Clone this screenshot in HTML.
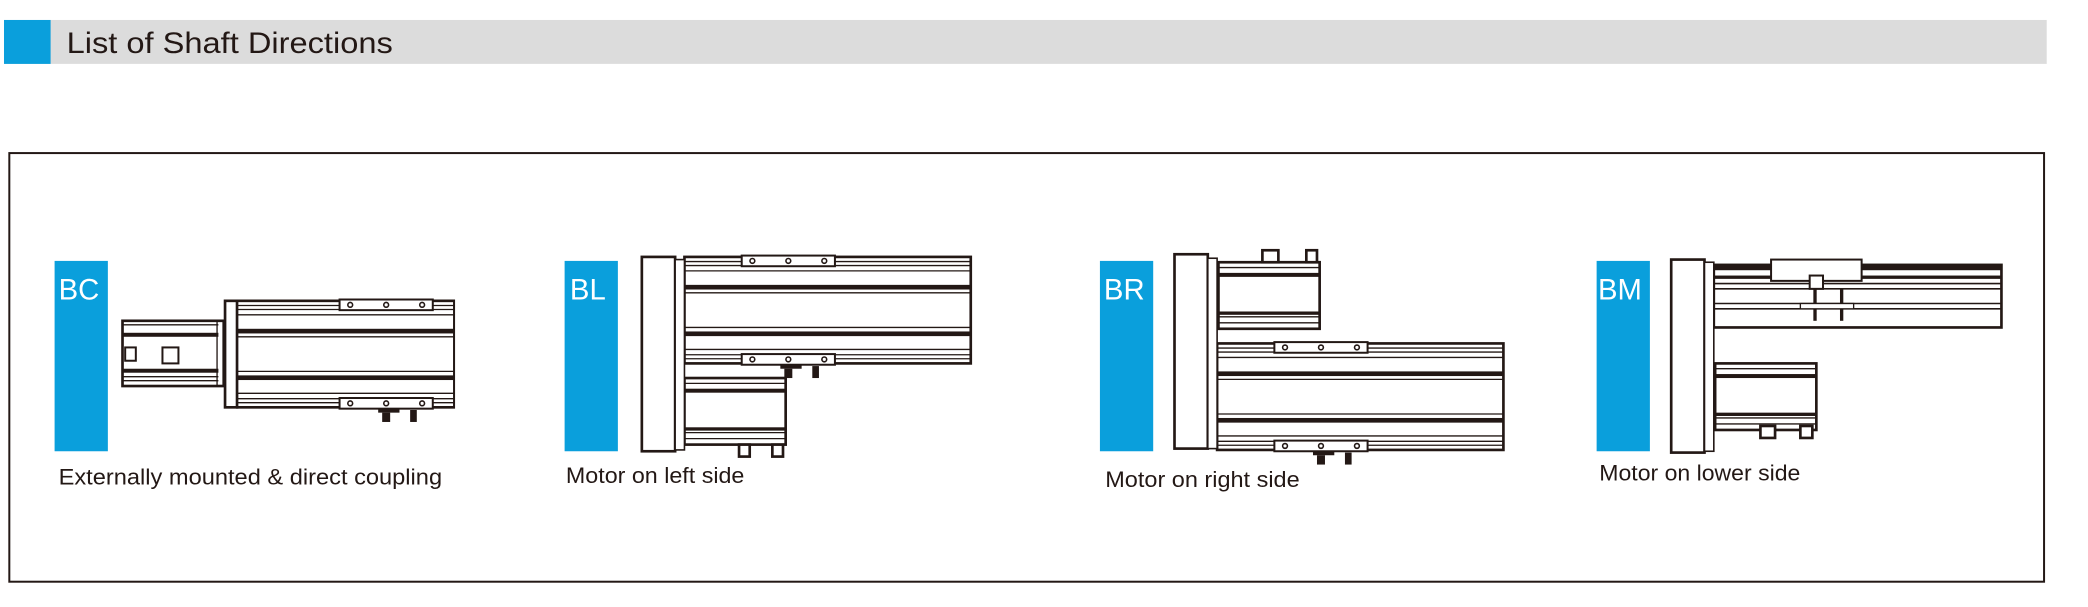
<!DOCTYPE html>
<html><head><meta charset="utf-8"><style>
html,body{margin:0;padding:0;background:#fff;}
svg{display:block;}
text{font-family:"Liberation Sans",sans-serif;}
</style></head><body>
<svg width="2088" height="607" viewBox="0 0 1568 456" preserveAspectRatio="none" xmlns="http://www.w3.org/2000/svg">
<defs>
<g id="body">
  <rect x="0" y="0" width="215" height="80" fill="#fff" stroke="#231815" stroke-width="2"/>
  <g stroke="#231815" stroke-width="1">
    <line x1="0" y1="3.5" x2="215" y2="3.5"/><line x1="0" y1="6.5" x2="215" y2="6.5"/>
    <line x1="0" y1="10.5" x2="215" y2="10.5"/><line x1="0" y1="27" x2="215" y2="27"/>
    <line x1="0" y1="53" x2="215" y2="53"/><line x1="0" y1="69.5" x2="215" y2="69.5"/>
    <line x1="0" y1="73.5" x2="215" y2="73.5"/><line x1="0" y1="76.5" x2="215" y2="76.5"/>
  </g>
  <rect x="0" y="21" width="215" height="3.5" fill="#231815"/>
  <rect x="0" y="56" width="215" height="3.5" fill="#231815"/>
</g>
<g id="carr">
  <g fill="#fff" stroke="#231815" stroke-width="1.5">
    <rect x="0" y="-1" width="70" height="8"/><rect x="0" y="73" width="70" height="8"/>
  </g>
  <g fill="none" stroke="#231815" stroke-width="1.2">
    <circle cx="8" cy="3" r="1.8"/><circle cx="35" cy="3" r="1.8"/><circle cx="62" cy="3" r="1.8"/>
    <circle cx="8" cy="77" r="1.8"/><circle cx="35" cy="77" r="1.8"/><circle cx="62" cy="77" r="1.8"/>
  </g>
  <g fill="#231815">
    <rect x="29" y="81" width="16" height="3"/>
    <rect x="32" y="84" width="6" height="7"/><rect x="53" y="82" width="5" height="9"/>
  </g>
</g>
<g id="motor">
  <rect x="0" y="0" width="76" height="50" fill="#fff" stroke="#231815" stroke-width="2"/>
  <g stroke="#231815" stroke-width="1"><line x1="0" y1="4" x2="76" y2="4"/><line x1="0" y1="45.5" x2="76" y2="45.5"/><line x1="0" y1="41" x2="76" y2="41"/></g>
  <rect x="0" y="8" width="76" height="3" fill="#231815"/>
  <rect x="0" y="37" width="76" height="2.5" fill="#231815"/>
</g>
</defs>

<rect x="3" y="15" width="1534" height="33" fill="#dcdcdc"/>
<rect x="3" y="15" width="35" height="33" fill="#0a9fdc"/>
<text x="50" y="40" font-size="22" fill="#231815" textLength="245" lengthAdjust="spacingAndGlyphs">List of Shaft Directions</text>
<rect x="7" y="115" width="1528" height="322" fill="none" stroke="#231815" stroke-width="1.5"/>

<!-- BC -->
<rect x="41" y="196" width="40" height="143" fill="#0a9fdc"/>
<text x="44" y="225" font-size="22" fill="#fff">BC</text>
<g transform="translate(92,241)">
  <rect x="0" y="0" width="76" height="49" fill="#fff" stroke="#231815" stroke-width="2"/>
  <g stroke="#231815" stroke-width="1"><line x1="0" y1="3" x2="72" y2="3"/><line x1="0" y1="42" x2="72" y2="42"/><line x1="0" y1="45" x2="72" y2="45"/></g>
  <rect x="0" y="9" width="72" height="3" fill="#231815"/><rect x="0" y="36" width="72" height="3" fill="#231815"/>
  <line x1="71" y1="0" x2="71" y2="49" stroke="#231815" stroke-width="1"/>
  <rect x="2" y="20" width="8" height="10" fill="none" stroke="#231815" stroke-width="1.5"/>
  <rect x="30" y="20" width="12" height="12" fill="none" stroke="#231815" stroke-width="1.5"/>
</g>
<g transform="translate(178,226) scale(0.758,1)"><use href="#body"/></g>
<g transform="translate(255,226)"><use href="#carr"/></g>
<rect x="169" y="226" width="9" height="80" fill="#fff" stroke="#231815" stroke-width="2"/>
<text x="44" y="364" font-size="17" fill="#231815" textLength="288" lengthAdjust="spacingAndGlyphs">Externally mounted &amp; direct coupling</text>

<!-- BL -->
<rect x="424" y="196" width="40" height="143" fill="#0a9fdc"/>
<text x="428" y="225" font-size="22" fill="#fff">BL</text>
<g transform="translate(514,193)"><use href="#body"/></g>
<g transform="translate(557,193)"><use href="#carr"/></g>
<g transform="translate(514,284)"><use href="#motor"/></g>
<g fill="#fff" stroke="#231815" stroke-width="2"><rect x="555" y="334" width="8" height="9"/><rect x="580" y="334" width="8" height="9"/></g>
<rect x="482" y="193" width="25" height="146" fill="#fff" stroke="#231815" stroke-width="2"/>
<rect x="507" y="195" width="7" height="143" fill="#fff" stroke="#231815" stroke-width="1.2"/>
<text x="425" y="363" font-size="17" fill="#231815" textLength="134" lengthAdjust="spacingAndGlyphs">Motor on left side</text>

<!-- BR -->
<rect x="826" y="196" width="40" height="143" fill="#0a9fdc"/>
<text x="829" y="225" font-size="22" fill="#fff">BR</text>
<g transform="translate(914,258)"><use href="#body"/></g>
<g transform="translate(957,258)"><use href="#carr"/></g>
<g transform="translate(915,197)"><use href="#motor"/></g>
<g fill="#fff" stroke="#231815" stroke-width="2"><rect x="948" y="188" width="12" height="9"/><rect x="981" y="188" width="8" height="9"/></g>
<rect x="882" y="191" width="25" height="146" fill="#fff" stroke="#231815" stroke-width="2"/>
<rect x="907" y="194" width="7" height="143" fill="#fff" stroke="#231815" stroke-width="1.2"/>
<text x="830" y="366" font-size="17" fill="#231815" textLength="146" lengthAdjust="spacingAndGlyphs">Motor on right side</text>

<!-- BM -->
<rect x="1199" y="196" width="40" height="143" fill="#0a9fdc"/>
<text x="1200" y="225" font-size="22" fill="#fff">BM</text>
<g transform="translate(1287,199)">
  <rect x="0" y="0" width="216" height="47" fill="#fff" stroke="#231815" stroke-width="2"/>
  <rect x="0" y="0" width="216" height="4" fill="#231815"/>
  <rect x="0" y="8" width="216" height="2.5" fill="#231815"/>
  <g stroke="#231815" stroke-width="1.2"><line x1="0" y1="14" x2="216" y2="14"/><line x1="0" y1="18" x2="216" y2="18"/><line x1="0" y1="29" x2="216" y2="29"/><line x1="0" y1="33" x2="216" y2="33"/></g>
  <rect x="43" y="-4" width="68" height="16" fill="#fff" stroke="#231815" stroke-width="1.5"/>
  <rect x="72" y="8" width="10" height="10" fill="#fff" stroke="#231815" stroke-width="1.5"/>
  <g stroke="#231815" stroke-width="2.5"><line x1="76" y1="18" x2="76" y2="42"/><line x1="96" y1="18" x2="96" y2="42"/></g>
  <rect x="65" y="29" width="40" height="4" fill="#fff" stroke="#231815" stroke-width="1"/>
</g>
<g transform="translate(1288,273)"><use href="#motor"/></g>
<g fill="#fff" stroke="#231815" stroke-width="2"><rect x="1322" y="320" width="11" height="9"/><rect x="1352" y="320" width="9" height="9"/></g>
<rect x="1255" y="195" width="25" height="145" fill="#fff" stroke="#231815" stroke-width="2"/>
<rect x="1280" y="197" width="7" height="142" fill="#fff" stroke="#231815" stroke-width="1.2"/>
<text x="1201" y="361" font-size="17" fill="#231815" textLength="151" lengthAdjust="spacingAndGlyphs">Motor on lower side</text>
</svg>
</body></html>
